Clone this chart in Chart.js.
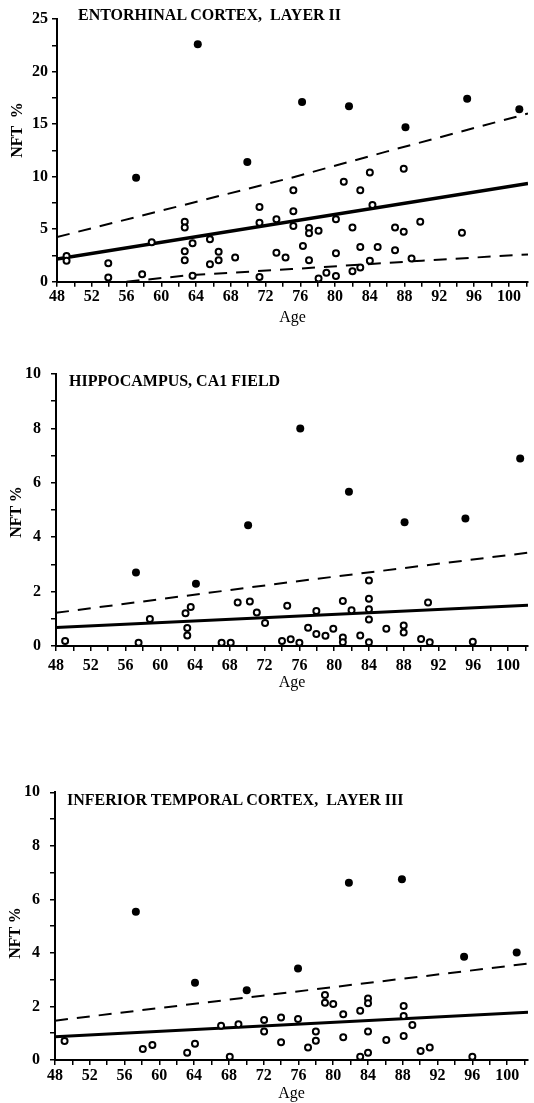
<!DOCTYPE html>
<html>
<head>
<meta charset="utf-8">
<script src="https://cdn.jsdelivr.net/npm/chart.js"></script>
<style>
  body { margin: 0; background: #fff; width: 534px; height: 1103px; position: relative; overflow: hidden; font-family: 'Liberation Serif', 'Times New Roman', serif; color: #000; }
  canvas { position: absolute; left: 0; }
  .ttl { position: absolute; font-weight: bold; font-size: 16px; line-height: 16px; white-space: pre; }
  .ylab { position: absolute; font-weight: bold; font-size: 16px; line-height: 16px; white-space: pre; transform: translate(-50%, -50%) rotate(-90deg); }
</style>
</head>
<body>

<canvas id="ec" width="534" height="327"></canvas>
<canvas id="ca" width="534" height="357"></canvas>
<canvas id="it" width="534" height="403"></canvas>

<div class="ttl" style="left:78px;top:7px">ENTORHINAL CORTEX,  LAYER II</div>
<div class="ttl" style="left:69px;top:373px">HIPPOCAMPUS, CA1 FIELD</div>
<div class="ttl" style="left:67px;top:792px">INFERIOR TEMPORAL CORTEX,  LAYER III</div>

<div class="ylab" style="left:17px;top:130px">NFT  %</div>
<div class="ylab" style="left:16px;top:512px">NFT %</div>
<div class="ylab" style="left:15px;top:933px">NFT %</div>

<script>
    // entorhinal cortex, layer II
    const ecFilledAge = [57.1, 64.2, 69.9, 76.2, 81.6, 88.1, 95.2, 101.2];
    const ecFilledNft = [9.9, 22.6, 11.4, 17.1, 16.7, 14.7, 17.4, 16.4];
    const ecOpenAge = [49.1, 49.1, 53.9, 53.9, 57.8, 58.9, 62.7, 62.7, 62.7, 62.7, 63.6, 63.6, 65.6, 65.6,
        66.6, 66.6, 68.5, 71.3, 71.3, 71.3, 73.25, 73.25, 74.3, 75.2, 75.2, 75.2, 76.3, 77.0, 77.0, 77.0,
        78.1, 78.1, 79.0, 80.1, 80.1, 80.1, 81.0, 82.0, 82.0, 82.9, 82.9, 82.9, 84.0, 84.0, 84.3, 84.9,
        86.9, 86.9, 87.9, 87.9, 88.8, 89.8, 94.6];
    const ecOpenNft = [2.45, 2.0, 1.75, 0.4, 0.7, 3.75, 5.7, 5.15, 2.9, 2.05, 3.65, 0.57, 4.05, 1.65,
        2.85, 2.05, 2.3, 7.1, 5.6, 0.45, 5.95, 2.75, 2.3, 8.7, 6.7, 5.3, 3.4, 5.1, 4.6, 2.05,
        4.85, 0.3, 0.85, 5.95, 2.7, 0.55, 9.5, 5.15, 1.0, 8.7, 3.3, 1.35, 10.4, 2.0, 7.3, 3.3,
        5.15, 3.0, 10.75, 4.75, 2.2, 5.7, 4.65];
    const ecFitAge = [48, 102.2];
    const ecFitNft = [2.15, 9.35];
    const ecUpperAge = [48, 75, 86, 102.2];
    const ecUpperNft = [4.25, 9.9, 12.4, 16.0];
    const ecLowerAge = [56, 63, 75, 90, 102.2];
    const ecLowerNft = [0, 0.6, 1.2, 2.0, 2.6];

    // hippocampus, CA1 field
    const caFilledAge = [57.2, 64.1, 70.1, 76.1, 81.7, 88.1, 95.1, 101.4];
    const caFilledNft = [2.7, 2.29, 4.44, 8.0, 5.67, 4.55, 4.69, 6.89];
    const caOpenAge = [49.05, 57.5, 58.8, 62.9, 63.5, 63.1, 63.1, 67.05, 68.1, 68.9, 70.3, 71.1, 72.05,
        74.0, 74.6, 75.0, 76.0, 77.0, 77.95, 77.95, 79.0, 79.9, 81.0, 81.0, 81.0, 82.0, 83.0,
        84.0, 84.0, 84.0, 84.0, 84.0, 86.0, 88.0, 88.0, 90.0, 90.8, 91.0, 95.95];
    const caOpenNft = [0.18, 0.12, 0.99, 1.2, 1.43, 0.66, 0.39, 0.12, 0.12, 1.6, 1.64, 1.23, 0.85,
        0.18, 1.48, 0.25, 0.12, 0.67, 1.29, 0.44, 0.38, 0.63, 1.65, 0.31, 0.14, 1.31, 0.39,
        2.41, 1.74, 1.35, 0.97, 0.14, 0.63, 0.75, 0.5, 0.26, 1.6, 0.14, 0.16];
    const caFitAge = [48, 102.3];
    const caFitNft = [0.68, 1.5];
    const caUpperAge = [48, 75, 102.3];
    const caUpperNft = [1.22, 2.35, 3.43];

    // inferior temporal cortex, layer III
    const itFilledAge = [57.3, 64.1, 70.05, 75.95, 81.8, 87.9, 95.05, 101.1];
    const itFilledNft = [5.54, 2.89, 2.61, 3.42, 6.62, 6.75, 3.86, 4.02];
    const itOpenAge = [49.1, 58.1, 59.2, 63.2, 64.1, 67.1, 68.1, 69.1, 72.05, 72.05, 74.0, 74.0, 75.95,
        77.1, 78.0, 78.0, 79.05, 79.05, 80.0, 81.15, 81.15, 83.1, 83.1, 84.0, 84.0, 84.0, 84.0,
        86.1, 88.1, 88.1, 88.1, 89.1, 90.05, 91.1, 96.0];
    const itOpenNft = [0.71, 0.41, 0.56, 0.27, 0.61, 1.28, 0.12, 1.34, 1.49, 1.06, 1.59, 0.66, 1.53,
        0.47, 1.06, 0.72, 2.43, 2.14, 2.09, 1.71, 0.85, 1.84, 0.12, 2.3, 2.12, 1.06, 0.27,
        0.75, 2.02, 1.64, 0.9, 1.31, 0.34, 0.47, 0.12];
    const itFitAge = [48, 102.4];
    const itFitNft = [0.87, 1.78];
    const itUpperAge = [48, 102.4];
    const itUpperNft = [1.47, 3.6];

    Chart.defaults.font.family = "'Liberation Serif', 'Times New Roman', serif";
    Chart.defaults.font.size = 16;
    Chart.defaults.color = '#000';

    function pts(ages, vals) {
        return ages.map((a, i) => ({ x: a, y: vals[i] }));
    }

    function panel(id, p) {
        const cv = document.getElementById(id);
        cv.style.top = p.top + 'px';

        const sets = [
            { data: pts(p.filledAge, p.filledNft), pointRadius: 4, backgroundColor: '#000', borderWidth: 0 },
            { data: pts(p.openAge, p.openNft), pointRadius: 3, backgroundColor: '#fff', borderColor: '#000', borderWidth: 2 },
            { data: pts(p.fitAge, p.fitNft), showLine: true, pointRadius: 0, borderColor: '#000', borderWidth: p.fitWidth }
        ];
        p.dashed.forEach(d => {
            sets.push({ data: pts(d[0], d[1]), showLine: true, pointRadius: 0, borderColor: '#000', borderWidth: 2, borderDash: [13, 9] });
        });

        const axisGrid = { drawOnChartArea: false, tickLength: 5, color: '#000', lineWidth: 1.5 };
        const axisBorder = { color: '#000', width: 2 };

        return new Chart(cv, {
            type: 'scatter',
            data: { datasets: sets },
            options: {
                responsive: false,
                animation: false,
                devicePixelRatio: 1,
                events: [],
                layout: { padding: { top: p.areaTop - p.top, left: 0, right: 0, bottom: 0 } },
                plugins: { legend: { display: false }, tooltip: { enabled: false } },
                scales: {
                    x: {
                        type: 'linear',
                        min: 48,
                        max: p.xMax,
                        afterFit: s => { s.height = p.bottom - p.areaBottom; },
                        ticks: {
                            stepSize: 2, includeBounds: false, autoSkip: false, maxRotation: 0,
                            padding: p.xPad,
                            font: { weight: 'bold' },
                            callback: v => (Math.round(v) % 4 === 0 ? Math.round(v) : '')
                        },
                        grid: axisGrid,
                        border: axisBorder,
                        title: { display: true, text: 'Age', padding: 0 }
                    },
                    y: {
                        type: 'linear',
                        min: 0,
                        max: p.yMax,
                        afterFit: s => { s.width = p.left; },
                        ticks: {
                            stepSize: p.yStep, autoSkip: false, padding: p.yPad,
                            font: { weight: 'bold' },
                            callback: v => (Math.abs(v / p.yLabelStep - Math.round(v / p.yLabelStep)) < 1e-6 ? v : '')
                        },
                        grid: axisGrid,
                        border: axisBorder
                    }
                }
            }
        });
    }

    panel('ec', {
        top: 0, areaTop: 19, areaBottom: 281.7, bottom: 327, left: 57,
        xMax: 102.2, xPad: 1, yMax: 25, yStep: 2.5, yLabelStep: 5, yPad: 4, fitWidth: 3.5,
        filledAge: ecFilledAge, filledNft: ecFilledNft, openAge: ecOpenAge, openNft: ecOpenNft,
        fitAge: ecFitAge, fitNft: ecFitNft,
        dashed: [[ecUpperAge, ecUpperNft], [ecLowerAge, ecLowerNft]]
    });

    panel('ca', {
        top: 335, areaTop: 374, areaBottom: 646, bottom: 692, left: 56,
        xMax: 102.3, xPad: 5, yMax: 10, yStep: 1, yLabelStep: 2, yPad: 10, fitWidth: 3,
        filledAge: caFilledAge, filledNft: caFilledNft, openAge: caOpenAge, openNft: caOpenNft,
        fitAge: caFitAge, fitNft: caFitNft,
        dashed: [[caUpperAge, caUpperNft]]
    });

    panel('it', {
        top: 700, areaTop: 792.3, areaBottom: 1060, bottom: 1103, left: 55,
        xMax: 102.4, xPad: 1, yMax: 10, yStep: 1, yLabelStep: 2, yPad: 10, fitWidth: 3,
        filledAge: itFilledAge, filledNft: itFilledNft, openAge: itOpenAge, openNft: itOpenNft,
        fitAge: itFitAge, fitNft: itFitNft,
        dashed: [[itUpperAge, itUpperNft]]
    });
</script>
</body>
</html>
